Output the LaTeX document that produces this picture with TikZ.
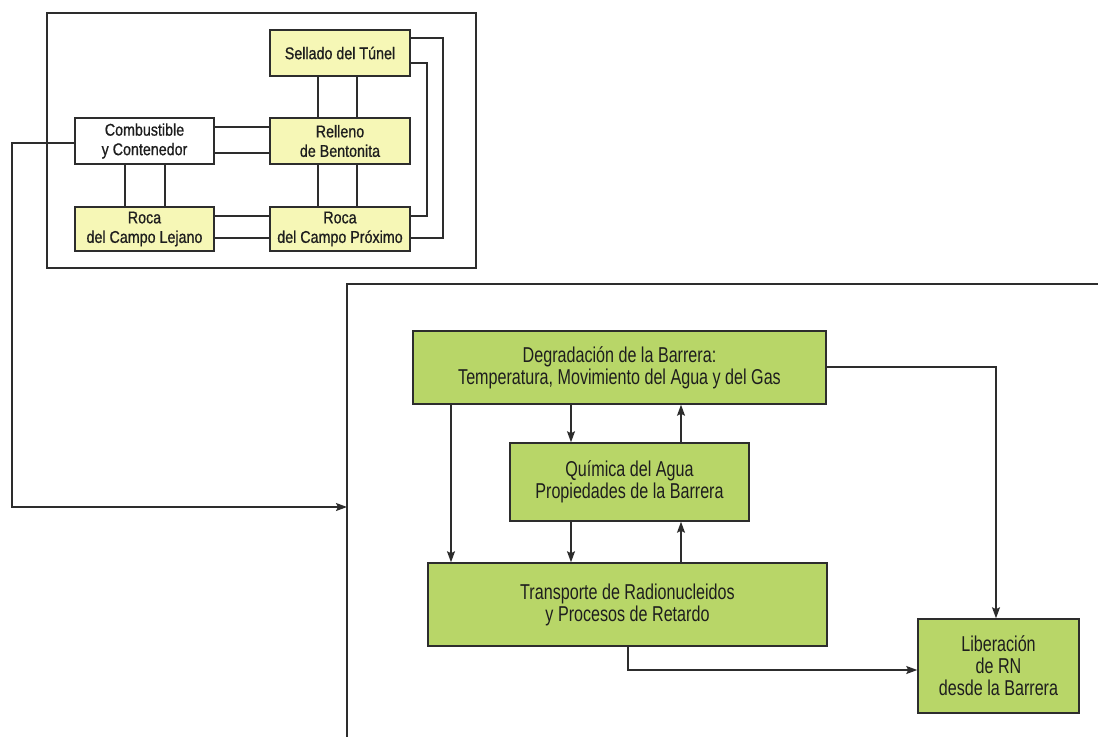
\documentclass[tikz,border=0pt]{standalone}
\usepackage{fontspec}
\setmainfont{Liberation Sans}[FakeStretch=0.75]
\newfontfamily\compfont{Liberation Sans}[FakeStretch=0.84,FakeBold=0.8]
\usetikzlibrary{arrows.meta,calc}
\definecolor{lineclr}{RGB}{45,45,45}
\definecolor{textclr}{RGB}{30,30,30}
\definecolor{paleyellow}{RGB}{246,247,182}
\definecolor{leafgreen}{RGB}{184,214,104}
\begin{document}
\begin{tikzpicture}[x=1pt,y=-1pt,
  every node/.style={text=textclr},
  smallbox/.style={draw=lineclr,line width=1.5pt,align=center,inner sep=0pt,
    font=\compfont\fontsize{17}{19.5}\selectfont},
  bigbox/.style={draw=lineclr,line width=1.5pt,fill=leafgreen,align=center,inner sep=0pt,
    font=\fontsize{21.5}{22}\selectfont},
  link/.style={draw=lineclr,line width=1.3pt},
  flow/.style={link,-{Stealth[length=11pt,width=8pt,inset=2pt]}}]
\useasboundingbox (0,0) rectangle (1098,737);
\fill[white] (0,0) rectangle (1098,737);

% ---- upper panel: barrier components ----
\draw[link] (47,13) rectangle (476,268);
\node[smallbox,fill=paleyellow,minimum width=140pt,minimum height=46pt] (sel) at (340,53) {Sellado del Túnel};
\node[smallbox,fill=paleyellow,minimum width=140pt,minimum height=46pt] (rel) at (340,141) {Relleno\\de Bentonita};
\node[smallbox,fill=white,minimum width=139pt,minimum height=46pt] (comb) at (144.5,141) {Combustible\\y Contenedor};
\node[smallbox,fill=paleyellow,minimum width=139pt,minimum height=44pt] (rl) at (144.5,229) {Roca\\del Campo Lejano};
\node[smallbox,fill=paleyellow,minimum width=140pt,minimum height=44pt] (rp) at (340,229) {Roca\\del Campo Próximo};

% paired couplings between components
\foreach \xx in {318,357} {
  \draw[link] (sel.south -| \xx,0) -- (rel.north -| \xx,0);
  \draw[link] (rel.south -| \xx,0) -- (rp.north -| \xx,0);
}
\foreach \xx in {125,165}
  \draw[link] (comb.south -| \xx,0) -- (rl.north -| \xx,0);
\foreach \yy in {127,153}
  \draw[link] (comb.east |- 0,\yy) -- (rel.west |- 0,\yy);
\foreach \yy in {216,238}
  \draw[link] (rl.east |- 0,\yy) -- (rp.west |- 0,\yy);
\draw[link] (sel.east |- 0,38) -- (443,38) |- (rp.east |- 0,238);
\draw[link] (sel.east |- 0,63) -- (427,63) |- (rp.east |- 0,216);

% ---- lower panel: barrier processes ----
\draw[link] (1098,284) -- (347,284) -- (347,737);
\coordinate (entry) at (347,507);
\draw[flow] (comb.west |- 0,143) -- (12,143) |- (entry);

\node[bigbox,minimum width=413pt,minimum height=73pt] (deg) at (619.5,367.5)
  {Degradación de la Barrera:\\Temperatura, Movimiento del Agua y del Gas};
\node[bigbox,minimum width=239pt,minimum height=78pt] (qui) at (629.5,482)
  {Química del Agua\\Propiedades de la Barrera};
\node[bigbox,minimum width=399pt,minimum height=83pt] (tra) at (627.5,604.5)
  {Transporte de Radionucleidos\\y Procesos de Retardo};
\node[bigbox,minimum width=161pt,minimum height=94pt] (lib) at (998.5,666)
  {Liberación\\de RN\\desde la Barrera};

\draw[flow] (deg.south -| 571,0) -- (qui.north -| 571,0);
\draw[flow] (qui.north -| 681,0) -- (deg.south -| 681,0);
\draw[flow] (qui.south -| 571,0) -- (tra.north -| 571,0);
\draw[flow] (tra.north -| 681,0) -- (qui.south -| 681,0);
\draw[flow] (deg.south -| 451,0) -- (tra.north -| 451,0);
\draw[flow] (deg.east |- 0,367) -| (lib.north -| 996,0);
\draw[flow] (tra.south -| 628,0) |- (lib.west |- 0,670);
\end{tikzpicture}
\end{document}
